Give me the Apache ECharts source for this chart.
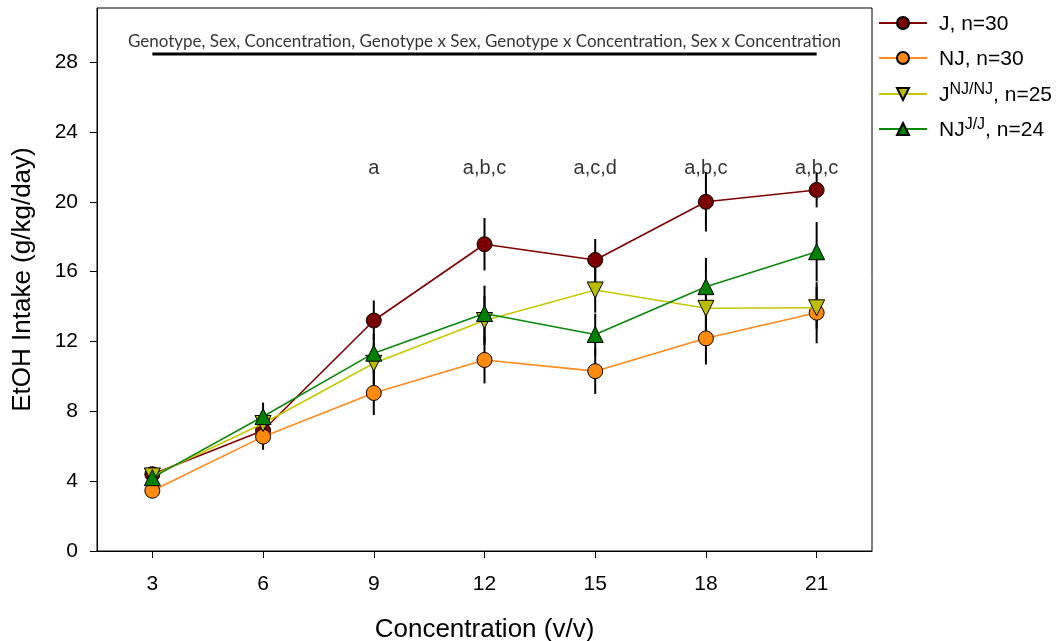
<!DOCTYPE html>
<html>
<head>
<meta charset="utf-8">
<script src="https://cdn.jsdelivr.net/npm/echarts@6/dist/echarts.min.js"></script>
<style>html,body{margin:0;padding:0;background:#fff}#c{width:1062px;height:641px}</style>
</head>
<body>
<div id="c"></div>
<script>
const concentrations = [3, 6, 9, 12, 15, 18, 21];
const yTicks = [0, 4, 8, 12, 16, 20, 24, 28];
const seriesNames = ['J, n=30', 'NJ, n=30', 'J^NJ/NJ, n=25', 'NJ^J/J, n=24'];
const jMean   = [4.4, 6.9, 13.2, 17.57, 16.67, 20.0, 20.68];
const jSem    = [0.3, 0.6, 1.15, 1.5, 1.2, 1.7, 1.0];
const njMean  = [3.45, 6.55, 9.05, 10.94, 10.3, 12.18, 13.65];
const njSem   = [0.3, 0.75, 1.26, 1.34, 1.3, 1.5, 1.75];
const jnjMean = [4.3, 7.3, 10.75, 13.2, 14.95, 13.9, 13.93];
const jnjSem  = [0.3, 0.7, 1.2, 1.4, 1.3, 1.3, 1.2];
const njjMean = [4.2, 7.7, 11.33, 13.6, 12.4, 15.14, 17.14];
const njjSem  = [0.3, 0.8, 1.1, 1.6, 1.2, 1.65, 1.7];
const sigLabels = ['', '', 'a', 'a,b,c', 'a,c,d', 'a,b,c', 'a,b,c'];
const sigY = 21.9;
const anovaText = 'Genotype, Sex, Concentration, Genotype x Sex, Genotype x Concentration, Sex x Concentration';
const anovaTextPos = [12, 29.2];
const anovaLineY = 28.46;
const legendRich = {
  'J, n=30': '{f|J, n=30}',
  'NJ, n=30': '{f|NJ, n=30}',
  'J^NJ/NJ, n=25': '{f|J}{sup|NJ/NJ}{m|, n=25}',
  'NJ^J/J, n=24': '{f|NJ}{sup|J/J}{m|, n=24}'
};
const legendTops = [14, 49, 82, 117];

const colors = [
  {fill: '#7a0000', line: '#800000', symbol: 'circle', rotate: 0},
  {fill: '#ff8a10', line: '#ff8a1a', symbol: 'circle', rotate: 0},
  {fill: '#bcbc00', line: '#c8c800', symbol: 'triangle', rotate: 180},
  {fill: '#008000', line: '#0a880a', symbol: 'triangle', rotate: 0}
];
const means = [jMean, njMean, jnjMean, njjMean];
const sems = [jSem, njSem, jnjSem, njjSem];

const series = [];
means.forEach((m, k) => {
  series.push({
    type: 'custom',
    name: 'err' + k,
    z: 2,
    silent: true,
    data: concentrations.map((c, i) => [c, m[i] - sems[k][i], m[i] + sems[k][i]]),
    renderItem: function (params, api) {
      const p1 = api.coord([api.value(0), api.value(1)]);
      const p2 = api.coord([api.value(0), api.value(2)]);
      return {type: 'line', shape: {x1: p1[0], y1: p1[1], x2: p2[0], y2: p2[1]},
        style: {stroke: '#000', lineWidth: 2}};
    },
    encode: {x: 0, y: [1, 2]}
  });
});
means.forEach((m, k) => {
  series.push({
    type: 'line',
    name: seriesNames[k],
    z: 3 + k,
    data: concentrations.map((c, i) => [c, m[i]]),
    symbol: colors[k].symbol,
    symbolRotate: colors[k].rotate,
    symbolSize: colors[k].symbol === 'circle' ? 15 : 16,
    showAllSymbol: true,
    lineStyle: {color: colors[k].line, width: 1.6},
    itemStyle: {color: colors[k].fill, borderColor: '#000', borderWidth: 1},
    emphasis: {disabled: true}
  });
});
series.push({
  type: 'line',
  name: 'anovaLine',
  data: [[concentrations[0], anovaLineY], [concentrations[concentrations.length - 1], anovaLineY]],
  symbol: 'none',
  lineStyle: {color: '#000', width: 3},
  silent: true
});
series.push({
  type: 'scatter',
  name: 'anovaText',
  data: [anovaTextPos],
  symbolSize: 0,
  silent: true,
  label: {show: true, position: 'inside', formatter: anovaText, color: '#000',
    fontFamily: 'Lato', fontSize: 17}
});
series.push({
  type: 'scatter',
  name: 'sig',
  data: concentrations.map((c, i) => [c, sigY, sigLabels[i]]),
  symbolSize: 0,
  silent: true,
  label: {show: true, position: 'inside', formatter: p => p.value[2], color: '#000',
    fontFamily: 'Liberation Sans, Arial', fontSize: 20}
});

const legendRichStyles = {
  f: {fontSize: 21, lineHeight: 24, verticalAlign: 'bottom', padding: [0, 0, 0, 7], color: '#000', fontFamily: 'Liberation Sans, Arial'},
  m: {fontSize: 21, lineHeight: 24, verticalAlign: 'bottom', color: '#000', fontFamily: 'Liberation Sans, Arial'},
  sup: {fontSize: 16, lineHeight: 16, verticalAlign: 'top', padding: [0, 0, 14, 0], color: '#000', fontFamily: 'Liberation Sans, Arial'}
};
const legends = seriesNames.map((n, k) => ({
  data: [n],
  orient: 'vertical',
  left: 878,
  top: legendTops[k],
  padding: 0,
  itemWidth: 48,
  itemHeight: 15,
  formatter: name => legendRich[name],
  textStyle: {fontSize: 21, color: '#000', rich: legendRichStyles}
}));

const chart = echarts.init(document.getElementById('c'), null, {renderer: 'canvas'});
chart.setOption({
  animation: false,
  backgroundColor: '#fff',
  textStyle: {fontFamily: 'Liberation Sans, Arial'},
  grid: {left: 97, right: 190, top: 8, bottom: 90, show: true, borderColor: '#000', borderWidth: 1,
    containLabel: false, outerBoundsMode: 'none'},
  legend: legends,
  xAxis: {
    type: 'value', min: 1.5, max: 22.5,
    name: 'Concentration (v/v)', nameLocation: 'middle', nameGap: 66,
    nameTextStyle: {fontSize: 26, color: '#000'},
    axisLine: {onZero: false, lineStyle: {color: '#000', width: 1}},
    axisTick: {show: true, length: 7, customValues: concentrations, lineStyle: {color: '#000'}},
    axisLabel: {customValues: concentrations, fontSize: 21, color: '#000', margin: 23},
    splitLine: {show: false}
  },
  yAxis: {
    type: 'value', min: 0, max: 31.1,
    name: 'EtOH Intake (g/kg/day)', nameLocation: 'middle', nameGap: 61,
    nameTextStyle: {fontSize: 26, color: '#000'},
    axisLine: {onZero: false, lineStyle: {color: '#000', width: 1}},
    axisTick: {show: true, length: 7, customValues: yTicks, lineStyle: {color: '#000'}},
    axisLabel: {customValues: yTicks, fontSize: 21, color: '#000', margin: 19},
    splitLine: {show: false}
  },
  series: series
});
</script>
</body>
</html>
